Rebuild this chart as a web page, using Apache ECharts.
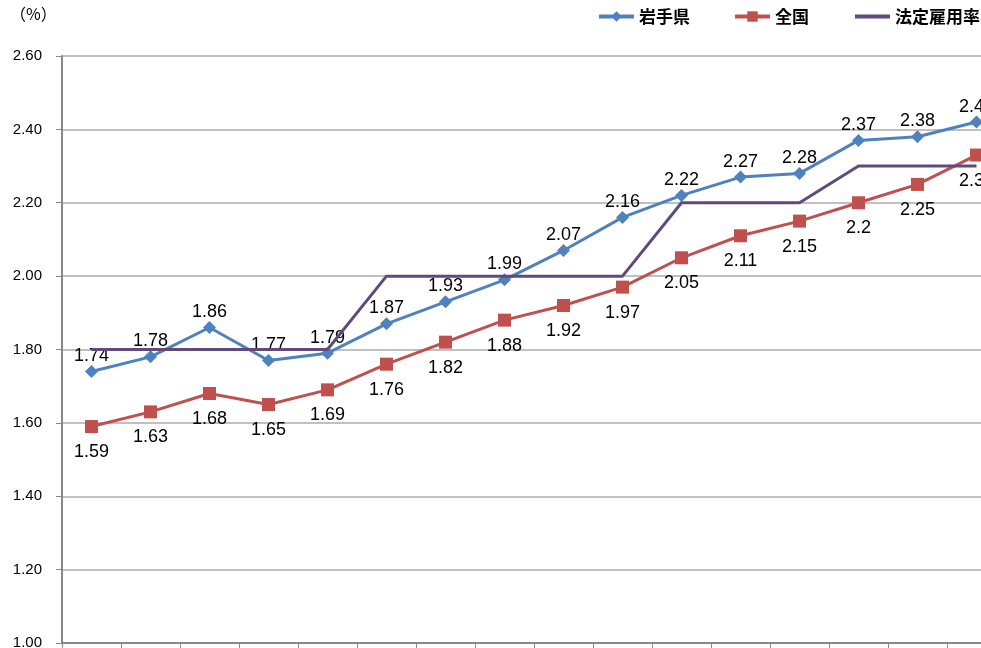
<!DOCTYPE html>
<html><head><meta charset="utf-8">
<script src="https://cdn.jsdelivr.net/npm/echarts@6/dist/echarts.min.js"></script>
<style>html,body{margin:0;padding:0;background:#fff}#c{width:981px;height:648px}</style>
</head><body><div id="c"></div>
<script>
const categories = ['1','2','3','4','5','6','7','8','9','10','11','12','13','14','15','16'];
const iwate = [1.74,1.78,1.86,1.77,1.79,1.87,1.93,1.99,2.07,2.16,2.22,2.27,2.28,2.37,2.38,2.42];
const national = [1.59,1.63,1.68,1.65,1.69,1.76,1.82,1.88,1.92,1.97,2.05,2.11,2.15,2.2,2.25,2.33];
const legalRate = [1.8,1.8,1.8,1.8,1.8,2.0,2.0,2.0,2.0,2.0,2.2,2.2,2.2,2.3,2.3,2.3];
const seriesNames = ['岩手県','全国','法定雇用率'];

const chart = echarts.init(document.getElementById('c'));
const lblFont = {fontFamily:'Liberation Sans, Noto Sans', fontSize:18, color:'#000'};
const legendBase = {top:8, padding:0, itemWidth:35, itemHeight:13,
  lineStyle:{width:4},
  textStyle:{fontFamily:'Noto Sans CJK JP', fontSize:17, color:'#000', fontWeight:'bold'}};
chart.setOption({
  animation:false,
  graphic:[{type:'text', left:10, top:6, style:{text:'（%）', font:'16px "Noto Sans CJK JP"', fill:'#000'}}],
  legend:[
    {...legendBase, left:597, data:[seriesNames[0]]},
    {...legendBase, left:733, data:[seriesNames[1]]},
    {...legendBase, left:853, data:[{name:seriesNames[2], itemStyle:{opacity:0}}]}
  ],
  grid:{left:62, top:56, right:-25, bottom:5, containLabel:false, outerBoundsMode:'none'},
  xAxis:{
    type:'category', data:categories, boundaryGap:true,
    axisLine:{lineStyle:{color:'#888', width:2}},
    axisTick:{show:true, length:6, lineStyle:{color:'#888'}},
    axisLabel:{show:false}
  },
  yAxis:{
    type:'value', min:1, max:2.6, interval:0.2,
    axisLine:{show:true, lineStyle:{color:'#888', width:2}},
    axisTick:{show:true, length:6, lineStyle:{color:'#888'}},
    axisLabel:{formatter:v=>v.toFixed(2), fontFamily:'Liberation Sans', fontSize:15, color:'#000', margin:20},
    splitLine:{lineStyle:{color:'#ababab', width:1.5}}
  },
  series:[
    {name:seriesNames[0], type:'line', data:iwate, symbol:'diamond', symbolSize:13,
     lineStyle:{color:'#4F81BD', width:3}, itemStyle:{color:'#4F81BD'},
     label:{show:true, position:'top', distance:0, ...lblFont}, z:3},
    {name:seriesNames[1], type:'line', data:national, symbol:'rect', symbolSize:13,
     lineStyle:{color:'#C0504D', width:3}, itemStyle:{color:'#C0504D'},
     label:{show:true, position:'bottom', distance:10, ...lblFont}, z:3},
    {name:seriesNames[2], type:'line', data:legalRate, symbol:'none', showSymbol:false,
     lineStyle:{color:'#604A7B', width:3}, itemStyle:{color:'#604A7B'}, z:4}
  ]
});
</script></body></html>
